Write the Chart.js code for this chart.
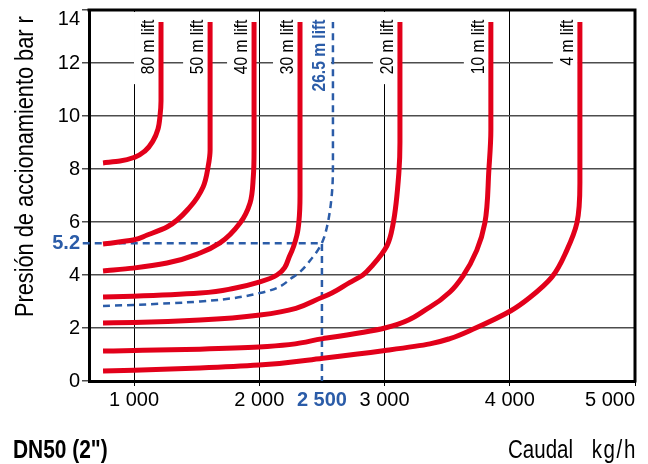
<!DOCTYPE html>
<html>
<head>
<meta charset="utf-8">
<script src="https://cdn.jsdelivr.net/npm/chart.js@4"></script>
<style>
  html, body { margin: 0; padding: 0; background: #fff; }
  canvas { display: block; }
</style>
</head>
<body>
<canvas id="liftChart" width="648" height="464"></canvas>
<script>
// AXIS TICKS
const xTicks = [1000, 2000, 2500, 3000, 4000, 5000];
const yTicks = [0, 2, 4, 5.2, 6, 8, 10, 12, 14];

// LIFT CURVES (flow kg/h -> pressure bar)
const flow80 = [752, 887, 1007, 1087, 1151, 1191, 1207, 1215, 1215];
const pres80 = [8.23, 8.3, 8.45, 8.68, 9.06, 9.51, 10.0, 10.57, 13.55];

const flow50 = [752, 992, 1100, 1263, 1447, 1551, 1591, 1607, 1607];
const pres50 = [5.17, 5.32, 5.5, 5.81, 6.57, 7.32, 8.08, 8.72, 13.55];

const flow40 = [752, 992, 1263, 1527, 1686, 1846, 1926, 1952, 1958, 1958];
const pres40 = [4.15, 4.26, 4.45, 4.83, 5.21, 5.96, 6.72, 7.7, 8.7, 13.55];

const flow30 = [752, 992, 1527, 1800, 2005, 2141, 2245, 2300, 2316, 2325, 2325];
const pres30 = [3.17, 3.2, 3.32, 3.5, 3.74, 4.0, 4.75, 5.5, 6.0, 7.0, 13.55];

const flow26 = [752, 992, 1527, 2005, 2269, 2428, 2500, 2540, 2580, 2588, 2588];
const pres26 = [2.83, 2.87, 3.0, 3.32, 3.92, 4.68, 5.21, 5.81, 7.09, 8.34, 13.55];

const flow20 = [752, 999, 1526, 2005, 2508, 2724, 2827, 2907, 3019, 3067, 3115, 3123, 3123];
const pres20 = [2.19, 2.21, 2.3, 2.49, 3.17, 3.72, 4.0, 4.38, 5.1, 5.9, 7.9, 9.0, 13.55];

const flow10 = [752, 999, 1526, 1997, 2508, 3003, 3362, 3522, 3626, 3737, 3801, 3833, 3849, 3849];
const pres10 = [1.13, 1.15, 1.2, 1.28, 1.6, 2.0, 2.79, 3.36, 3.96, 4.94, 5.96, 7.96, 9.47, 13.55];

const flow4 = [752, 999, 1526, 1997, 2508, 3003, 3362, 3522, 3705, 4009, 4160, 4336, 4456, 4536, 4560, 4560];
const pres4 = [0.38, 0.41, 0.49, 0.6, 0.86, 1.15, 1.4, 1.6, 1.95, 2.65, 3.15, 3.92, 4.94, 5.96, 7.47, 13.55];

const liftNames = ['80 m lift', '50 m lift', '40 m lift', '30 m lift', '26.5 m lift', '20 m lift', '10 m lift', '4 m lift'];

// READING EXAMPLE (2 500 kg/h at 5.2 bar)
const readFlow = [590, 2500, 2500];
const readPres = [5.2, 5.2, 0];

const RED = '#e2001a';
const BLUE = '#2b5ca8';
const SANS = "'Liberation Sans', Arial, sans-serif";
const SQUEEZE = 0.82; // no narrow font installed, squeeze Liberation Sans

const pts = (xs, ys) => xs.map((x, i) => ({ x: x, y: ys[i] }));

const curves = [
  [flow80, pres80], [flow50, pres50], [flow40, pres40], [flow30, pres30],
  [flow26, pres26], [flow20, pres20], [flow10, pres10], [flow4, pres4]
];

const datasets = curves.map((c, i) => {
  const dashed = liftNames[i].startsWith('26.5');
  return {
    label: liftNames[i],
    data: pts(c[0], c[1]),
    indexAxis: 'y',
    showLine: true,
    borderColor: dashed ? BLUE : RED,
    borderWidth: dashed ? 2.5 : 5,
    borderDash: dashed ? [7, 5] : [],
    pointRadius: 0,
    cubicInterpolationMode: 'monotone',
    fill: false
  };
});

datasets.push({
  label: 'lectura',
  data: pts(readFlow, readPres),
  showLine: true,
  borderColor: BLUE,
  borderWidth: 2.5,
  borderDash: [7, 5],
  pointRadius: 0,
  tension: 0,
  clip: false
});

const fmt = v => String(v).replace(/\B(?=(\d{3})+$)/, ' ');

// narrow-looking text helper
function narrow(ctx, text, x, y, o) {
  ctx.save();
  ctx.translate(x, y);
  if (o.rotate) ctx.rotate(o.rotate);
  ctx.scale(SQUEEZE, 1);
  ctx.font = (o.bold ? 'bold ' : '') + o.size + 'px ' + SANS;
  ctx.fillStyle = o.color || '#000';
  ctx.textAlign = o.align || 'left';
  ctx.textBaseline = o.baseline || 'alphabetic';
  if (o.spacing) ctx.letterSpacing = o.spacing;
  ctx.fillText(text, 0, 0);
  const w = ctx.measureText(text).width * SQUEEZE;
  ctx.restore();
  return w;
}

// white label boxes + rotated lift labels
const liftLabels = {
  id: 'liftLabels',
  beforeDatasetsDraw(chart) {
    const { ctx, chartArea, scales } = chart;
    ctx.save();
    curves.forEach((c, i) => {
      const bold = liftNames[i].startsWith('26.5');
      const lineX = scales.x.getPixelForValue(c[0][c[0].length - 1]);
      const topY = scales.y.getPixelForValue(13.6) - 1;
      ctx.font = (bold ? 'bold ' : '') + '19px ' + SANS;
      const len = ctx.measureText(liftNames[i]).width * SQUEEZE;
      const boxW = bold ? 33 : 27;
      ctx.fillStyle = '#fff';
      ctx.fillRect(lineX - boxW, chartArea.top + 2, boxW - 2, topY - chartArea.top + len + 8);
      narrow(ctx, liftNames[i], lineX - (bold ? 13 : 12), topY, {
        size: 19, bold: bold, color: bold ? BLUE : '#000',
        rotate: -Math.PI / 2, align: 'right', baseline: 'middle'
      });
    });
    ctx.restore();
  }
};

// frame and free texts
const frame = {
  id: 'frame',
  afterDraw(chart) {
    const { ctx, chartArea, scales } = chart;
    ctx.save();
    ctx.strokeStyle = '#000';
    ctx.lineWidth = 3;
    ctx.beginPath();
    ctx.moveTo(chartArea.left - 1.5, chartArea.top);
    ctx.lineTo(chartArea.right, chartArea.top);
    ctx.lineTo(chartArea.right, chartArea.bottom + 1.5);
    ctx.stroke();

    // top tick label sits inside the frame
    ctx.fillStyle = '#000';
    ctx.font = '20px ' + SANS;
    ctx.textAlign = 'right';
    ctx.textBaseline = 'middle';
    ctx.fillText(String(yTicks[yTicks.length - 1]), chartArea.left - 9, scales.y.getPixelForValue(14) + 9);

    narrow(ctx, 'Presión de accionamiento bar r', 33, 317, { size: 26.5, rotate: -Math.PI / 2 });
    narrow(ctx, 'DN50 (2")', 13, 458, { size: 25.5, bold: true });
    narrow(ctx, 'Caudal', 573, 458, { size: 25, align: 'right' });
    narrow(ctx, 'kg/h', 637, 458, { size: 25, align: 'right', spacing: '2px' });
    ctx.restore();
  }
};

new Chart(document.getElementById('liftChart'), {
  type: 'scatter',
  data: { datasets: datasets },
  plugins: [liftLabels, frame],
  options: {
    responsive: false,
    devicePixelRatio: 1,
    animation: false,
    layout: { padding: { left: 0, top: 10, right: 13, bottom: 0 } },
    plugins: { legend: { display: false }, tooltip: { enabled: false } },
    scales: {
      x: {
        type: 'linear',
        min: 640,
        max: 5000,
        afterBuildTicks: s => { s.ticks = [s.min].concat(xTicks).map(v => ({ value: v })); },
        afterFit: s => { s.height = 83; s.paddingLeft = 0; s.paddingRight = 0; },
        border: { color: '#000', width: 3 },
        grid: {
          color: c => (c.tick && (c.tick.value === 2500 || c.tick.value === 640)) ? 'rgba(0,0,0,0)' : '#000',
          lineWidth: 1,
          tickLength: 5
        },
        ticks: {
          autoSkip: false,
          maxRotation: 0,
          align: 'inner',
          padding: 2,
          color: c => c.tick.value === 2500 ? BLUE : '#000',
          font: c => ({ family: SANS, size: 20, weight: c.tick && c.tick.value === 2500 ? 'bold' : 'normal' }),
          callback: v => xTicks.includes(v) ? fmt(v) : ''
        }
      },
      y: {
        type: 'linear',
        min: 0,
        max: 14,
        afterBuildTicks: s => { s.ticks = yTicks.map(v => ({ value: v })); },
        afterFit: s => { s.width = 89; s.paddingTop = 0; s.paddingBottom = 0; },
        border: { color: '#000', width: 3 },
        grid: {
          color: c => (c.tick && (c.tick.value === 5.2 || c.tick.value === 0 || c.tick.value === 14)) ? 'rgba(0,0,0,0)' : '#4d4d4d',
          tickColor: c => (c.tick && c.tick.value === 5.2) ? 'rgba(0,0,0,0)' : '#4d4d4d',
          lineWidth: 1.5,
          tickLength: 7
        },
        ticks: {
          autoSkip: false,
          padding: 2,
          color: c => c.tick.value === 5.2 ? BLUE : '#000',
          font: c => ({ family: SANS, size: 20, weight: c.tick && c.tick.value === 5.2 ? 'bold' : 'normal' }),
          callback: v => v === 14 ? '' : String(v)
        }
      }
    }
  }
});
</script>
</body>
</html>
